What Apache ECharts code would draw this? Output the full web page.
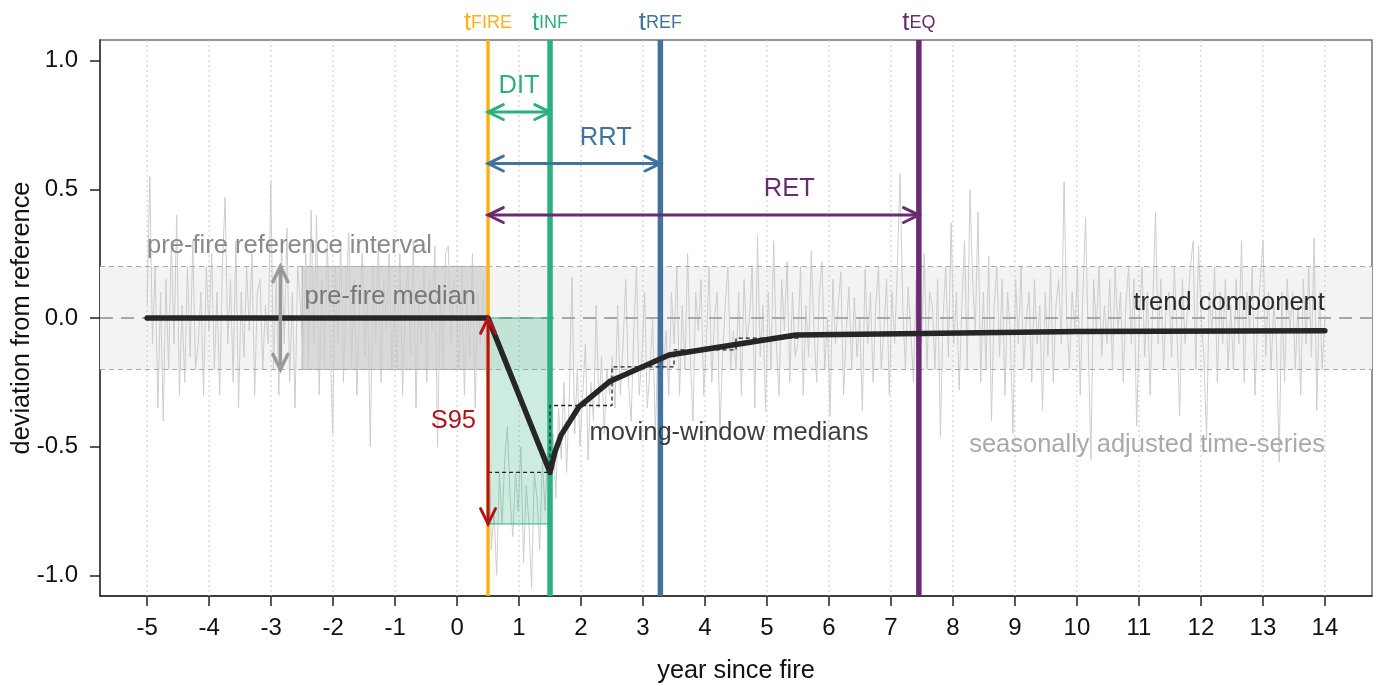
<!DOCTYPE html>
<html><head><meta charset="utf-8">
<script src="https://cdn.jsdelivr.net/npm/echarts@6/dist/echarts.min.js"></script>
<style>html,body{margin:0;padding:0;background:#fff}#c{width:1379px;height:686px}</style>
</head><body><div id="c"></div>
<script>
// ---------------- data ----------------
const xTicks = [-5,-4,-3,-2,-1,0,1,2,3,4,5,6,7,8,9,10,11,12,13,14];
const yTicks = [-1,-0.5,0,0.5,1];
const seriesStart = -5, seriesEnd = 14;
const seriesValues = [
 0.05,0.55,-0.1,0.2,-0.35,0.1,-0.4,0.15,-0.2,0.3,-0.1,0.4,-0.3,0.05,-0.25,0.2,-0.15,0.3,-0.2,-0.1,0.1,-0.3,0.2,
 -0.05,0.25,-0.2,0.1,-0.3,0.2,0.47,-0.1,0.15,-0.25,0.3,-0.35,0.1,-0.15,0.2,-0.05,0.25,-0.3,0.1,0.15,-0.2,0.05,-0.1,
 0.53,-0.2,0.15,-0.3,0.3,-0.1,0.35,-0.25,0.1,-0.35,0.2,0.05,-0.15,0.25,-0.2,0.42,-0.1,0.4,-0.3,0.15,-0.2,0.3,-0.05,
 -0.45,0.2,-0.1,0.3,-0.25,0.1,0.33,-0.2,0.15,-0.3,0.05,0.25,-0.15,0.1,-0.5,0.2,-0.1,0.3,-0.25,0.15,-0.05,0.25,-0.2,
 0.1,-0.2,0.25,-0.3,0.05,0.2,-0.15,0.3,-0.35,0.1,-0.1,0.2,-0.25,0.15,-0.05,0.28,-0.5,0.1,-0.2,0.25,0.28,-0.1,0.15,
 0.05,-0.2,0.2,-0.3,0.1,-0.15,0.25,-0.35,0.1,-0.1,0.15,-0.2,
 -0.3,-0.9,-0.75,-1.0,-0.6,-0.8,-0.55,-0.42,-0.7,-0.85,-0.6,-0.75,-0.5,-0.95,-0.65,-0.8,-1.05,-0.6,-0.7,-0.9,-0.55,-0.75,-0.5,
 -0.6,-0.45,-0.7,-0.35,-0.55,-0.25,-0.6,-0.3,0.16,-0.45,-0.2,-0.5,-0.3,-0.1,-0.55,-0.25,-0.4,0.05,-0.35,-0.15,-0.45,-0.2,-0.3,
 -0.15,-0.35,0.05,-0.3,-0.1,0.15,-0.25,-0.4,-0.05,0.2,-0.3,-0.15,0.1,-0.35,-0.2,0.0,-0.45,-0.1,0.25,-0.2,-0.05,-0.3,0.1,
 -0.1,0.2,-0.3,0.05,-0.2,0.25,-0.15,-0.4,0.1,-0.05,0.15,-0.3,-0.1,0.2,-0.25,0.0,0.1,-0.45,-0.15,0.05,0.2,-0.2,-0.05,
 -0.2,0.1,-0.3,0.15,-0.1,0.0,0.2,-0.35,0.32,-0.15,0.05,-0.36,0.1,-0.2,0.3,-0.1,-0.3,0.15,-0.05,0.22,-0.25,0.1,-0.15,
 -0.1,0.2,-0.3,0.05,-0.15,0.26,-0.05,-0.25,0.1,0.22,-0.2,0.0,-0.38,0.15,-0.1,0.05,0.18,-0.3,-0.05,0.12,-0.2,0.08,-0.15,
 0.0,-0.36,0.19,-0.1,0.1,-0.25,0.05,0.2,-0.2,-0.05,0.15,-0.3,0.1,-0.1,0.2,0.56,0.05,-0.2,0.12,-0.05,-0.25,0.15,-0.1,
 -0.1,0.25,-0.2,0.1,0.05,-0.2,0.15,-0.46,0.0,0.2,-0.15,0.37,-0.1,0.1,-0.28,0.05,0.3,-0.2,0.5,0.15,-0.05,0.41,-0.25,
 0.1,-0.2,0.24,-0.4,0.05,0.2,-0.15,0.15,-0.3,0.1,-0.05,-0.45,0.15,-0.1,0.2,-0.2,0.0,0.1,-0.25,0.15,-0.1,0.05,-0.36,
 0.1,-0.15,0.2,-0.25,0.05,0.15,-0.1,0.53,0.0,-0.2,0.1,-0.05,0.2,-0.3,0.1,0.39,-0.1,-0.55,0.15,-0.05,0.2,-0.15,0.05,
 -0.1,0.15,-0.2,0.2,-0.05,0.1,-0.25,0.05,0.2,-0.1,0.15,-0.42,0.0,0.2,-0.15,0.1,-0.3,0.05,0.41,-0.1,0.15,-0.2,0.05,
 0.1,-0.15,0.2,-0.05,-0.38,0.15,-0.1,0.05,0.2,0.3,-0.2,0.28,0.0,-0.15,-0.47,0.1,-0.05,0.2,-0.25,0.1,-0.1,0.15,-0.2,
 0.05,-0.2,0.15,-0.1,0.3,-0.25,0.1,-0.05,0.2,-0.3,0.0,0.15,0.3,-0.15,0.1,-0.2,0.05,-0.1,-0.56,0.1,-0.25,0.15,-0.05,
 0.1,-0.2,0.05,-0.3,0.15,-0.1,0.2,-0.15,0.31,-0.36,0.1,-0.2,0.0
];
const trendX = [-5, 0.5, 1.5, 1.58, 1.68, 1.97, 2.46, 3.42, 5.47, 7.5, 10, 14];
const trendY = [0, 0, -0.6, -0.52, -0.454, -0.344, -0.247, -0.144, -0.066, -0.06, -0.052, -0.05];
const medianX = [0.5, 1.5, 2.5, 3.5, 4.5, 5.5, 6.5, 7.5, 8.5, 9.5, 10.5, 11.5, 12.5, 13.5, 14];
const medianY = [-0.6, -0.34, -0.19, -0.124, -0.078, -0.068, -0.064, -0.06, -0.056, -0.053, -0.051, -0.05, -0.05, -0.05, -0.05];
const refInterval = [-0.2, 0.2];
const refMedian = 0;
const preFireWindow = [-2.5, 0.5];
const s95Box = [0.5, 1.5, -0.8, 0];
const eventTimes = [0.5, 1.5, 3.28, 7.45];
const eventNames = ['FIRE', 'INF', 'REF', 'EQ'];
const spanNames = ['DIT', 'RRT', 'RET'];
const spanEnds = [1.5, 3.28, 7.45];
const spanLevels = [0.8, 0.6, 0.4];
const spanLabelX = [1.0, 2.4, 5.36];
const spanLabelY = [0.9, 0.7, 0.5];
const refArrowX = -2.85;
const annoText = ['pre-fire reference interval', 'pre-fire median', 'trend component', 'moving-window medians', 'seasonally adjusted time-series', 'S95'];
const annoX = [-5.0, -2.46, 14.0, 2.135, 14.0, -0.06];
const annoY = [0.28, 0.08, 0.057, -0.445, -0.495, -0.40];

// ---------------- styles ----------------
const FONT = '"Liberation Sans", Arial, Helvetica, sans-serif';
const TXT = 25.5;
const X_MIN = -5.76, X_MAX = 14.76, Y_MIN = -1.08, Y_MAX = 1.08;
const eventColors = ['#FBB117', '#2DB07F', '#40739E', '#6A2C70'];
const eventWidths = [3.5, 5.5, 5.5, 5.5];
const spanColors = ['#2DB07F', '#40739E', '#6A2C70'];
const RED = '#B3141B';
const annoAlign = ['left', 'left', 'right', 'left', 'right', 'center'];
const annoColor = ['#8a8a8a', '#777777', '#2b2b2b', '#3d3d3d', '#a9a9a9', RED];

function headPts(tip, ux, uy) {
  const L = 17, a = 26 * Math.PI / 180, c = Math.cos(a), s = Math.sin(a);
  const bx = -ux, by = -uy;
  return [[tip[0] + L * (bx * c - by * s), tip[1] + L * (bx * s + by * c)], [tip[0], tip[1]],
          [tip[0] + L * (bx * c + by * s), tip[1] + L * (-bx * s + by * c)]];
}
function doubleArrow(p0, p1, color, width) {
  const dx = p1[0] - p0[0], dy = p1[1] - p0[1], len = Math.hypot(dx, dy);
  const ux = dx / len, uy = dy / len;
  const st = {stroke: color, lineWidth: width, fill: 'none', lineCap: 'round', lineJoin: 'miter'};
  return {type: 'group', children: [
    {type: 'line', shape: {x1: p0[0], y1: p0[1], x2: p1[0], y2: p1[1]}, style: st},
    {type: 'polyline', shape: {points: headPts(p1, ux, uy)}, style: st},
    {type: 'polyline', shape: {points: headPts(p0, -ux, -uy)}, style: st}
  ]};
}

const chart = echarts.init(document.getElementById('c'), null, {renderer: 'canvas'});
const noiseData = seriesValues.map((v, i) => [seriesStart + i * (seriesEnd - seriesStart) / (seriesValues.length - 1), v]);

const option = {
  animation: false,
  textStyle: {fontFamily: FONT},
  grid: {left: 100, right: 7, top: 40, bottom: 90, show: true, borderColor: '#707070', borderWidth: 1.5, outerBoundsMode: 'none'},
  xAxis: {
    type: 'value', min: X_MIN, max: X_MAX,
    name: 'year since fire', nameLocation: 'middle', nameGap: 63, nameMoveOverlap: false,
    nameTextStyle: {fontSize: 25.3, color: '#111', fontFamily: FONT},
    axisLine: {show: true, onZero: false, lineStyle: {color: '#222', width: 1.5}},
    axisTick: {show: true, length: 10, customValues: xTicks, lineStyle: {color: '#222', width: 1.5}},
    axisLabel: {customValues: xTicks, fontSize: 24, color: '#111', margin: 20, fontFamily: FONT},
    splitLine: {show: false}
  },
  yAxis: {
    type: 'value', min: Y_MIN, max: Y_MAX,
    name: 'deviation from reference', nameLocation: 'middle', nameGap: 65, nameMoveOverlap: false,
    nameTextStyle: {fontSize: 25.3, color: '#111', fontFamily: FONT},
    axisLine: {show: true, onZero: false, lineStyle: {color: '#333', width: 1.5}},
    axisTick: {show: true, length: 10, customValues: yTicks, lineStyle: {color: '#222', width: 1.5}},
    axisLabel: {customValues: yTicks, fontSize: 24, color: '#111', margin: 22, fontFamily: FONT,
      formatter: v => Number(v).toFixed(1)},
    splitLine: {show: false}
  },
  series: [
    { // reference interval band
      type: 'custom', z: 1, silent: true, data: [[refInterval[0], refInterval[1]]],
      renderItem: (p, api) => {
        const cs = p.coordSys, a = api.coord([0, api.value(1)]), b = api.coord([0, api.value(0)]);
        return {type: 'rect', shape: {x: cs.x, y: a[1], width: cs.width, height: b[1] - a[1]}, style: {fill: '#f3f3f3'}};
      }
    },
    { // dotted vertical grid
      type: 'custom', z: 1, silent: true, data: xTicks.map(v => [v, 0]),
      renderItem: (p, api) => {
        const cs = p.coordSys, x = api.coord([api.value(0), 0])[0];
        return {type: 'line', shape: {x1: x, y1: cs.y, x2: x, y2: cs.y + cs.height},
          style: {stroke: '#c8c8c8', lineWidth: 1, lineDash: [2, 3]}};
      }
    },
    { // pre-fire median window
      type: 'custom', z: 2, silent: true, data: [[preFireWindow[0], preFireWindow[1], refInterval[0], refInterval[1]]],
      renderItem: (p, api) => {
        const a = api.coord([api.value(0), api.value(3)]), b = api.coord([api.value(1), api.value(2)]);
        return {type: 'rect', shape: {x: a[0], y: a[1], width: b[0] - a[0], height: b[1] - a[1]},
          style: {fill: 'rgba(140,140,140,0.25)', stroke: 'rgba(120,120,120,0.45)', lineWidth: 1}};
      }
    },
    { // seasonally adjusted time series
      type: 'line', z: 3, silent: true, data: noiseData, showSymbol: false, symbol: 'none',
      lineStyle: {color: '#cdcdcd', width: 1}
    },
    { // dashed reference interval bounds
      type: 'custom', z: 4, silent: true, data: refInterval.map(v => [0, v]),
      renderItem: (p, api) => {
        const cs = p.coordSys, y = api.coord([0, api.value(1)])[1];
        return {type: 'line', shape: {x1: cs.x, y1: y, x2: cs.x + cs.width, y2: y},
          style: {stroke: '#a8a8a8', lineWidth: 1, lineDash: [5, 4]}};
      }
    },
    { // dashed reference median
      type: 'custom', z: 4, silent: true, data: [[0, refMedian]],
      renderItem: (p, api) => {
        const cs = p.coordSys, y = api.coord([0, api.value(1)])[1];
        return {type: 'line', shape: {x1: cs.x, y1: y, x2: cs.x + cs.width, y2: y},
          style: {stroke: '#a6a6a6', lineWidth: 2, lineDash: [13, 8]}};
      }
    },
    { // S95 box
      type: 'custom', z: 5, silent: true, data: [s95Box],
      renderItem: (p, api) => {
        const a = api.coord([api.value(0), api.value(3)]), b = api.coord([api.value(1), api.value(2)]);
        return {type: 'rect', shape: {x: a[0], y: a[1], width: b[0] - a[0], height: b[1] - a[1]},
          style: {fill: 'rgba(45,176,127,0.24)', stroke: '#2DB07F', lineWidth: 1}};
      }
    },
    { // event lines
      type: 'custom', z: 6, silent: true, data: eventTimes.map((t, i) => [t, i]),
      renderItem: (p, api) => {
        const cs = p.coordSys, i = p.dataIndex, x = api.coord([api.value(0), 0])[0];
        return {type: 'line', shape: {x1: x, y1: cs.y, x2: x, y2: cs.y + cs.height},
          style: {stroke: eventColors[i], lineWidth: eventWidths[i]}};
      }
    },
    { // moving-window medians
      type: 'line', z: 7, silent: true, step: 'end', showSymbol: false, symbol: 'none',
      data: medianX.map((x, i) => [x, medianY[i]]),
      lineStyle: {color: '#222', width: 1.3, type: [4, 3]}
    },
    { // trend component
      type: 'line', z: 8, silent: true, showSymbol: false, symbol: 'none',
      data: trendX.map((x, i) => [x, trendY[i]]),
      lineStyle: {color: '#262626', width: 5.5, cap: 'round', join: 'round'}
    },
    { // span arrows
      type: 'custom', z: 9, silent: true, data: spanEnds.map((e, i) => [eventTimes[0], e, spanLevels[i]]),
      renderItem: (p, api) => {
        const i = p.dataIndex, a = api.coord([api.value(0), api.value(2)]), b = api.coord([api.value(1), api.value(2)]);
        return doubleArrow(a, b, spanColors[i], 3);
      }
    },
    { // S95 vertical arrow
      type: 'custom', z: 9, silent: true, data: [[s95Box[0], s95Box[3], s95Box[2]]],
      renderItem: (p, api) => doubleArrow(api.coord([api.value(0), api.value(1)]), api.coord([api.value(0), api.value(2)]), RED, 3)
    },
    { // reference interval arrow
      type: 'custom', z: 9, silent: true, data: [[refArrowX, refInterval[1], refInterval[0]]],
      renderItem: (p, api) => doubleArrow(api.coord([api.value(0), api.value(1)]), api.coord([api.value(0), api.value(2)]), '#9a9a9a', 3.5)
    },
    { // event labels above plot
      type: 'custom', z: 10, silent: true, clip: false, data: eventTimes.map((t, i) => [t, i]),
      renderItem: (p, api) => {
        const cs = p.coordSys, i = p.dataIndex, x = api.coord([api.value(0), 0])[0], c = eventColors[i];
        return {type: 'text', x: x, y: cs.y - 32, style: {
          text: '{t|t}{s|' + eventNames[i] + '}', align: 'center', verticalAlign: 'top',
          rich: {t: {fontSize: 25.5, fontFamily: FONT, fill: c, lineHeight: 30},
                 s: {fontSize: 18, fontFamily: FONT, fill: c, lineHeight: 17}}}};
      }
    },
    { // span labels
      type: 'custom', z: 10, silent: true, data: spanNames.map((n, i) => [spanLabelX[i], spanLabelY[i]]),
      renderItem: (p, api) => {
        const i = p.dataIndex, q = api.coord([api.value(0), api.value(1)]);
        return {type: 'text', x: q[0], y: q[1], style: {text: spanNames[i], fill: spanColors[i],
          fontSize: TXT, fontFamily: FONT, align: 'center', verticalAlign: 'middle'}};
      }
    },
    { // annotations
      type: 'custom', z: 10, silent: true, data: annoText.map((t, i) => [annoX[i], annoY[i]]),
      renderItem: (p, api) => {
        const i = p.dataIndex, q = api.coord([api.value(0), api.value(1)]);
        return {type: 'text', x: q[0], y: q[1], style: {text: annoText[i], fill: annoColor[i],
          fontSize: TXT, fontFamily: FONT, align: annoAlign[i], verticalAlign: 'middle'}};
      }
    }
  ]
};
chart.setOption(option);
</script>
</body></html>
